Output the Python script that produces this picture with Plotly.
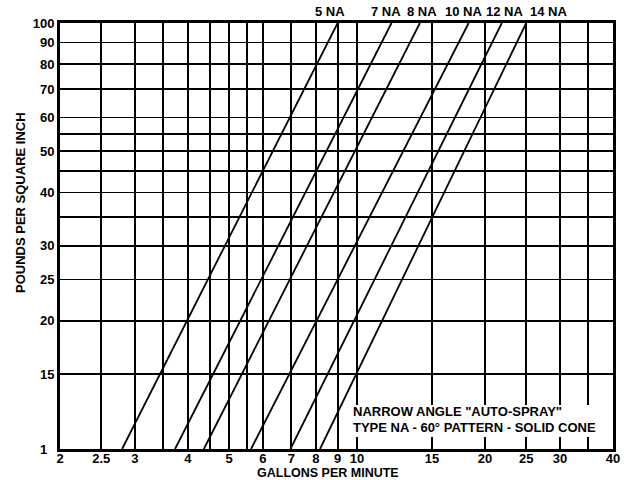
import math
import plotly.graph_objects as go

# ---- data ----
nozzles = ["5 NA", "7 NA", "8 NA", "10 NA", "12 NA", "14 NA"]
psi_points = [10, 100]                       # each rating line runs from 10 psi to 100 psi
gpm_at_10psi = [2.80, 3.73, 4.36, 5.63, 6.97, 8.18]
gpm_at_100psi = [9.0, 12.05, 14.05, 18.3, 21.9, 25.0]

x_tickvals = [2, 2.5, 3, 3.5, 4, 4.5, 5, 5.5, 6, 7, 8, 9, 10, 15, 20, 25, 30, 35, 40]
x_ticktext = ["2", "2.5", "3", "", "4", "", "5", "", "6", "7", "8", "9", "10",
              "15", "20", "25", "30", "", "40"]
y_tickvals = [10, 15, 20, 25, 30, 35, 40, 45, 50, 55, 60, 70, 80, 90, 100]
y_ticktext = ["1\u00a0\u00a0", "15", "20", "25", "30", "", "40", "", "50", "", "60",
              "70", "80", "90", "100"]

x_title = "GALLONS PER MINUTE"
y_title = "POUNDS PER SQUARE INCH"
note_lines = ['NARROW ANGLE "AUTO-SPRAY"', "TYPE NA - 60\u00b0 PATTERN - SOLID CONE"]

FONT = "Arial, 'Liberation Sans', Helvetica, sans-serif"

fig = go.Figure()
for name, lo, hi in zip(nozzles, gpm_at_10psi, gpm_at_100psi):
    fig.add_trace(go.Scatter(
        x=[lo, hi], y=psi_points, mode="lines", name=name,
        line=dict(color="black", width=1.8), hoverinfo="skip", showlegend=False,
    ))

# nozzle labels above the plot
label_x = [0.4882, 0.5895, 0.6546, 0.7288, 0.8029, 0.8825]
annotations = []
for name, px in zip(nozzles, label_x):
    annotations.append(dict(
        text=name, x=px, y=1.026, xref="paper", yref="paper",
        xanchor="center", yanchor="middle", showarrow=False,
        font=dict(family=FONT, size=13, color="black", weight="bold"),
    ))

# note text in the lower right
for line, py in zip(note_lines, [0.0869, 0.0509]):
    annotations.append(dict(
        text=line, x=0.5257, y=py, xref="paper", yref="paper",
        xanchor="left", yanchor="middle", showarrow=False,
        font=dict(family=FONT, size=13, color="black", weight="bold"),
    ))

# axis titles
annotations.append(dict(
    text=x_title, x=0.4846, y=-0.057, xref="paper", yref="paper",
    xanchor="center", yanchor="middle", showarrow=False,
    font=dict(family=FONT, size=12.5, color="black", weight="bold"),
))
annotations.append(dict(
    text=y_title, x=-0.0705, y=0.5775, xref="paper", yref="paper",
    xanchor="center", yanchor="middle", showarrow=False, textangle=-90,
    font=dict(family=FONT, size=13, color="black", weight="bold"),
))

fig.update_layout(
    width=624, height=480,
    margin=dict(l=60, r=11, t=23, b=31, autoexpand=False),
    paper_bgcolor="white", plot_bgcolor="white",
    font=dict(family=FONT, color="black"),
    annotations=annotations,
    shapes=[dict(
        type="rect", xref="paper", yref="paper",
        x0=0.5154, x1=0.991, y0=0.0282, y1=0.1033,
        fillcolor="white", line=dict(width=0), layer="above",
    )],
    showlegend=False,
)

fig.update_xaxes(
    type="log", range=[math.log10(2), math.log10(40)],
    tickmode="array", tickvals=x_tickvals, ticktext=x_ticktext,
    showgrid=True, gridcolor="black", gridwidth=1.8,
    showline=True, linecolor="black", linewidth=3, mirror=True,
    ticks="", tickangle=0, automargin=False, ticklabelstandoff=-5,
    tickfont=dict(family=FONT, size=13, color="black", weight="bold"),
    zeroline=False,
)
fig.update_yaxes(
    type="log", range=[1, 2],
    tickmode="array", tickvals=y_tickvals, ticktext=y_ticktext,
    showgrid=True, gridcolor="black", gridwidth=1.8,
    showline=True, linecolor="black", linewidth=3, mirror=True,
    ticks="", automargin=False,
    tickfont=dict(family=FONT, size=13, color="black", weight="bold"),
    zeroline=False,
)

fig.write_html(
    "out.html",
    config={"displayModeBar": False, "staticPlot": True},
    post_script="document.body.style.margin='0';document.body.style.overflow='hidden';",
)
